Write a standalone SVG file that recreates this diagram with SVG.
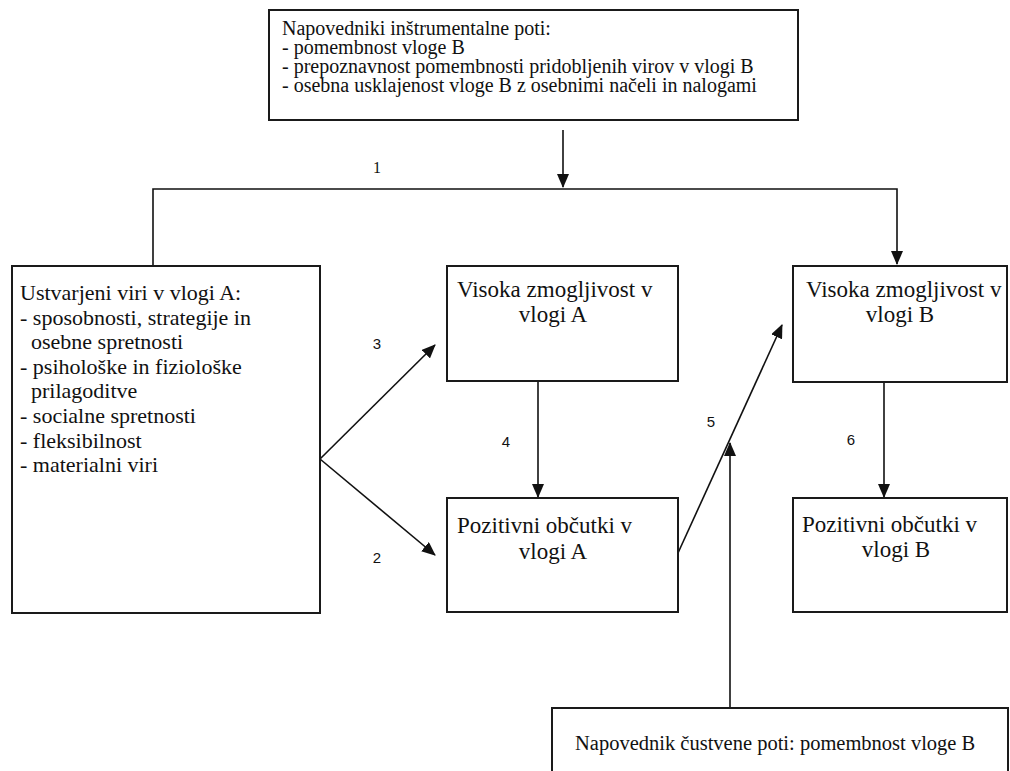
<svg xmlns="http://www.w3.org/2000/svg" width="1010" height="771" viewBox="0 0 1010 771">
<style>
.box{fill:#fff;stroke:#1a1a1a;stroke-width:2}
.t{font-family:"Liberation Serif","Times New Roman",serif;fill:#111}
.n{font-family:"Liberation Sans",Arial,sans-serif;font-size:15px;fill:#111;text-anchor:middle}
.n1{font-family:"Liberation Serif",serif;font-size:16px;fill:#111;text-anchor:middle}
.c{fill:none;stroke:#111;stroke-width:1.6}
</style>
<defs>
<marker id="ah" markerUnits="userSpaceOnUse" markerWidth="14" markerHeight="12" refX="13" refY="6" orient="auto">
<path d="M0,0 L14,6 L0,12 Z" fill="#111"/>
</marker>
</defs>
<rect width="1010" height="771" fill="#fff"/>
<g id="connectors">
<path class="c" d="M563,130 V187" marker-end="url(#ah)"/>
<path class="c" d="M153,266 V189 H897 V264" marker-end="url(#ah)"/>
<path class="c" d="M320,459 L435,345" marker-end="url(#ah)"/>
<path class="c" d="M320,459 L435,555" marker-end="url(#ah)"/>
<path class="c" d="M538,381 V497" marker-end="url(#ah)"/>
<path class="c" d="M678,553 L782,325" marker-end="url(#ah)"/>
<path class="c" d="M884,382 V497" marker-end="url(#ah)"/>
<path class="c" d="M730,708 V443" marker-end="url(#ah)"/>
<text class="n1" x="377" y="173">1</text>
<text class="n" x="377" y="349">3</text>
<text class="n" x="377" y="563">2</text>
<text class="n" x="506" y="447">4</text>
<text class="n" x="711" y="427">5</text>
<text class="n" x="851" y="445">6</text>
</g>
<g id="instrumental">
<rect class="box" x="269" y="10" width="529" height="110"/>
<text class="t" font-size="20" x="282">
<tspan x="282" y="35">Napovedniki inštrumentalne poti:</tspan>
<tspan x="282" y="54">- pomembnost vloge B</tspan>
<tspan x="282" y="73">- prepoznavnost pomembnosti pridobljenih virov v vlogi B</tspan>
<tspan x="282" y="92">- osebna usklajenost vloge B z osebnimi načeli in nalogami</tspan>
</text>
</g>
<g id="resourcesA">
<rect class="box" x="12" y="266" width="308" height="347"/>
<text class="t" font-size="22">
<tspan x="20" y="300">Ustvarjeni viri v vlogi A:</tspan>
<tspan x="20" y="325">- sposobnosti, strategije in</tspan>
<tspan x="31" y="349">osebne spretnosti</tspan>
<tspan x="20" y="374">- psihološke in fiziološke</tspan>
<tspan x="31" y="398">prilagoditve</tspan>
<tspan x="20" y="423">- socialne spretnosti</tspan>
<tspan x="20" y="448">- fleksibilnost</tspan>
<tspan x="20" y="472">- materialni viri</tspan>
</text>
</g>
<g id="performanceA">
<rect class="box" x="447" y="266" width="231" height="115"/>
<text class="t" font-size="23"><tspan x="457" y="297">Visoka zmogljivost v</tspan><tspan x="553" y="322" text-anchor="middle">vlogi A</tspan></text>
</g>
<g id="feelingsA">
<rect class="box" x="447" y="498" width="231" height="114"/>
<text class="t" font-size="23"><tspan x="457" y="533">Pozitivni občutki v</tspan><tspan x="553" y="559" text-anchor="middle">vlogi A</tspan></text>
</g>
<g id="performanceB">
<rect class="box" x="793" y="266" width="214" height="116"/>
<text class="t" font-size="23"><tspan x="806" y="297">Visoka zmogljivost v</tspan><tspan x="900" y="322" text-anchor="middle">vlogi B</tspan></text>
</g>
<g id="feelingsB">
<rect class="box" x="793" y="498" width="214" height="114"/>
<text class="t" font-size="23"><tspan x="802" y="532">Pozitivni občutki v</tspan><tspan x="896" y="557" text-anchor="middle">vlogi B</tspan></text>
</g>
<g id="emotional">
<rect class="box" x="552" y="708" width="456" height="80"/>
<text class="t" font-size="20.5" x="575" y="750">Napovednik čustvene poti: pomembnost vloge B</text>
</g>
</svg>
